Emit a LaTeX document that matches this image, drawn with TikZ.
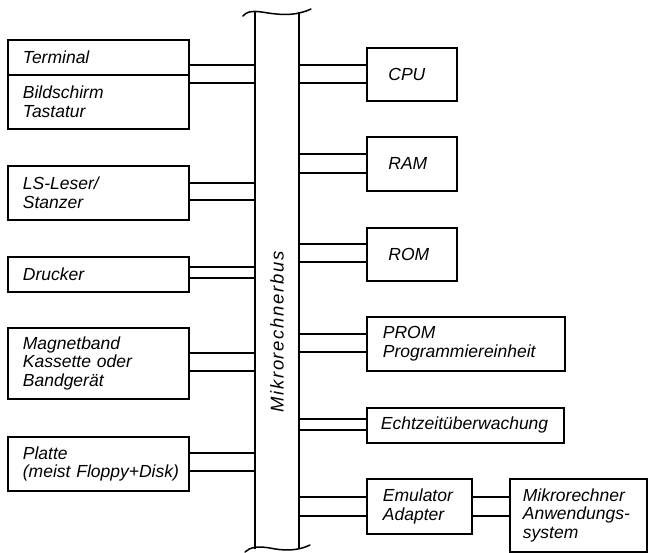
\documentclass[tikz,border=0pt]{standalone}
\usepackage{fontspec}
\setmainfont{Liberation Sans}
\begin{document}
\begin{tikzpicture}[x=1pt,y=-1pt,
  blk/.style={draw, line width=1.8pt, rectangle, anchor=north west, align=left,
    inner ysep=0pt, font=\itshape\fontsize{17.5}{18.5}\selectfont},
  leftblk/.style={blk, minimum width=181pt, text width=151pt, inner xsep=15pt},
  smallblk/.style={blk, minimum width=90pt, text width=47pt, inner xsep=21pt},
  wire/.style={line width=1.2pt},
  busline/.style={line width=1.8pt},
  waveline/.style={line width=1.5pt, line cap=round}]
\useasboundingbox (0,0) rectangle (648,552);

% the bus
\node[minimum width=44pt, minimum height=537pt, anchor=north west,
      inner sep=0pt, outer sep=0pt] (bus) at (255,12) {};
\draw[busline] (bus.north west) -- (bus.south west);
\draw[busline] (bus.north east) -- (bus.south east);
\draw[waveline] (243,16) .. controls (248,10) and (256,11) .. (268,13)
  .. controls (282,15) and (296,16) .. (311,9);
\draw[waveline] (245,552) .. controls (250,547) and (258,546) .. (270,548)
  .. controls (284,551) and (298,551) .. (310,545);
\node[rotate=90, font=\itshape\fontsize{18.5}{19}\selectfont\addfontfeature{LetterSpace=9}]
  (buslabel) at (277,332) {Mikrorechnerbus};

% peripherals on the left
\node[leftblk, minimum height=35pt] (term) at (7,39) {Terminal};
\node[leftblk, minimum height=54pt] (bild) at (7,74) {Bildschirm\\Tastatur};
\node[leftblk, minimum height=54pt] (ls) at (7,165) {LS-Leser/\\Stanzer};
\node[leftblk, minimum height=35pt] (druck) at (7,256) {Drucker};
\node[leftblk, minimum height=71pt] (band) at (7,327) {Magnetband\\Kassette oder\\Bandgerät};
\node[leftblk, minimum height=54pt] (platte) at (7,436)
  {Platte\\\mbox{(meist Floppy+Disk)}};

% modules on the right
\node[smallblk, minimum height=53pt] (cpu) at (366,47) {CPU};
\node[smallblk, minimum height=54pt] (ram) at (366,136) {RAM};
\node[smallblk, minimum height=53pt] (rom) at (366,227) {ROM};
\node[blk, minimum width=198pt, text width=166pt, inner xsep=16pt, minimum height=54pt]
  (prom) at (366,316) {PROM\\Programmiereinheit};
\node[blk, minimum width=197pt, text width=169pt, inner xsep=14pt, minimum height=35pt]
  (echt) at (366,407) {Echtzeitüberwachung};
\node[blk, minimum width=105pt, text width=73pt, inner xsep=16pt, minimum height=55pt]
  (emu) at (366,478) {Emulator\\Adapter};
\node[blk, minimum width=137pt, text width=111pt, inner xsep=13pt, minimum height=73pt]
  (mikro) at (509,478) {Mikrorechner\\Anwendungs-\\system};

% double connections to the bus
\foreach \n/\ya/\yb in {term/65/65, bild/83/83, ls/183/200, druck/267/278,
                        band/353/371, platte/453/471} {
  \draw[wire] (\n.east |- 0,\ya) -- (bus.west |- 0,\ya);
  \draw[wire] (\n.east |- 0,\yb) -- (bus.west |- 0,\yb);
}
\foreach \n/\ya/\yb in {cpu/65/83, ram/154/173, rom/244/262, prom/334/352,
                        echt/419/430, emu/497/516} {
  \draw[wire] (bus.east |- 0,\ya) -- (\n.west |- 0,\ya);
  \draw[wire] (bus.east |- 0,\yb) -- (\n.west |- 0,\yb);
}
\draw[wire] (emu.east |- 0,497) -- (mikro.west |- 0,497);
\draw[wire] (emu.east |- 0,516) -- (mikro.west |- 0,516);
\end{tikzpicture}
\end{document}
